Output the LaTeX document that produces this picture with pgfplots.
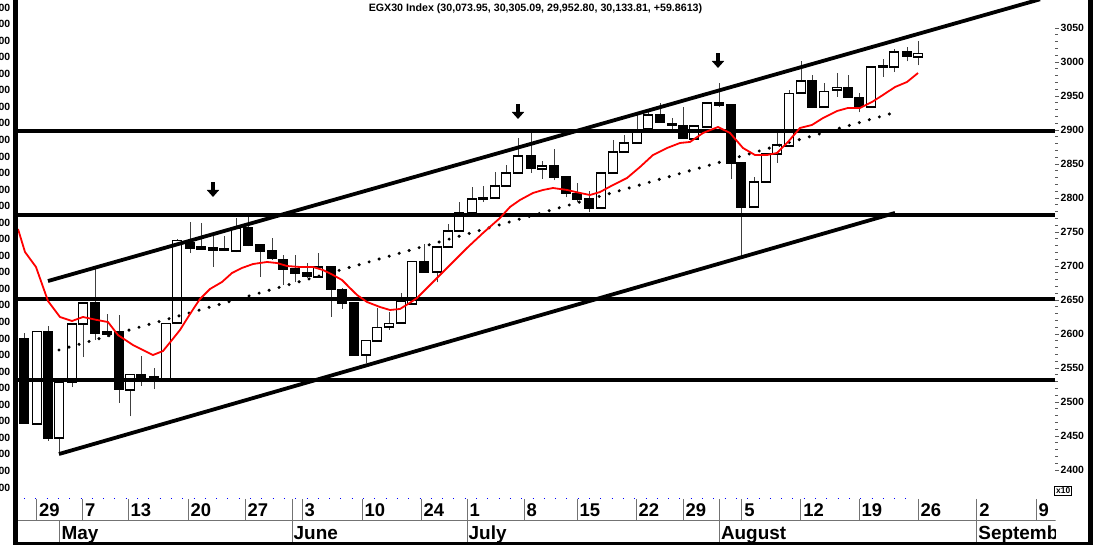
\documentclass[border=0pt]{standalone}
\usepackage{fontspec}
\setmainfont{Liberation Sans}
\usepackage{pgfplots}
\pgfplotsset{compat=1.18}
\usepackage{pgfplotstable}
\usetikzlibrary{arrows.meta}

\newcommand\fs[1]{\fontsize{#1}{#1}\selectfont\bfseries}

% white (rising) candles: x o h l c
\pgfplotstableread{
x o h l c
37 2468 2604 2468 2604
59 2447 2529 2426 2529
72 2529 2615 2522 2615
83 2615 2646 2566 2646
130 2518 2541 2479 2541
166 2534 2616 2532 2616
177 2616 2740 2616 2738
236 2722 2771 2720 2756
318 2684 2719 2684 2699
366 2569 2591 2557 2591
377 2590 2638 2589 2610
389 2610 2632 2606 2616
401 2616 2660 2615 2649
412 2644 2707 2643 2707
437 2691 2728 2676 2728
448 2728 2762 2727 2752
459 2752 2794 2751 2778
472 2778 2816 2777 2799
495 2800 2838 2799 2818
506 2818 2849 2817 2837
518 2837 2888 2836 2862
542 2843 2854 2828 2847
601 2786 2837 2785 2837
613 2837 2885 2836 2868
624 2868 2893 2867 2881
637 2881 2925 2880 2901
648 2901 2929 2900 2922
694 2887 2907 2886 2906
707 2905 2941 2904 2940
754 2787 2831 2786 2824
766 2824 2866 2823 2865
777 2865 2897 2852 2878
789 2877 2959 2876 2954
801 2954 3001 2953 2972
824 2934 2969 2933 2957
837 2959 2984 2949 2963
871 2934 2994 2933 2993
894 2993 3019 2985 3015
918 3007 3031 2995 3013
}\whitec

% black (falling) candles: x o h l c
\pgfplotstableread{
x o h l c
24 2594 2601 2469 2469
48 2604 2612 2443 2447
95 2646 2696 2591 2602
107 2603 2629 2596 2600
119 2603 2628 2499 2519
141 2541 2568 2524 2537
154 2537 2550 2519 2534
190 2734 2765 2719 2727
201 2728 2763 2724 2725
213 2727 2746 2699 2724
224 2726 2744 2722 2723
248 2756 2772 2729 2731
260 2731 2733 2684 2722
272 2722 2741 2709 2712
283 2710 2716 2672 2696
295 2696 2716 2676 2690
307 2690 2704 2683 2685
331 2699 2700 2625 2666
342 2666 2667 2637 2646
354 2646 2647 2569 2569
424 2707 2732 2690 2691
483 2801 2818 2794 2798
531 2862 2897 2837 2844
554 2847 2872 2826 2831
566 2831 2832 2801 2807
577 2807 2822 2794 2799
589 2799 2810 2779 2786
660 2922 2940 2911 2912
672 2910 2918 2900 2907
683 2906 2934 2887 2888
719 2940 2969 2934 2937
731 2937 2938 2828 2852
741 2852 2853 2713 2787
812 2972 2981 2932 2934
848 2963 2981 2962 2949
859 2947 2954 2926 2935
883 2995 3004 2978 2993
907 3016 3022 3001 3009
}\blackc

% moving average (red)
\pgfplotstableread{
x ma
18 2754.4
25 2720.6
36 2698.5
48 2648.5
60 2625.0
72 2619.1
83 2625.0
97 2620.6
108 2617.6
118 2598.5
133 2583.8
153 2569.1
163 2575.0
172 2591.2
180 2605.9
190 2629.4
200 2651.5
210 2666.2
222 2676.5
232 2689.7
242 2697.1
253 2702.9
267 2705.9
277 2704.4
287 2700.0
300 2698.5
313 2698.5
323 2694.1
333 2686.8
342 2679.4
350 2667.6
357 2657.4
367 2647.1
380 2639.7
390 2635.3
400 2636.8
408 2644.1
417 2652.9
433 2676.5
450 2701.5
467 2726.5
483 2748.5
500 2770.6
510 2786.8
520 2797.1
533 2807.4
543 2811.8
553 2814.7
567 2811.8
580 2807.4
590 2804.4
600 2808.8
613 2819.1
627 2829.4
640 2845.6
653 2863.2
667 2873.5
680 2880.9
690 2882.4
703 2895.6
718 2904.4
730 2895.6
743 2873.5
755 2863.2
767 2863.2
777 2866.2
788 2882.4
800 2903.0
812 2907.4
823 2917.6
837 2927.9
848 2932.4
860 2932.4
872 2941.2
883 2951.5
895 2963.2
907 2970.6
918 2983.8
}\matab

\begin{document}
\begin{tikzpicture}
\begin{axis}[
  at={(18bp,48bp)}, anchor=south west,
  scale only axis, width=1037bp, height=497bp,
  xmin=18, xmax=1055, ymin=2360.3, ymax=3091.18,
  axis line style={draw=none},
  xtick=\empty,
  ytick={2400,2450,...,3050},
  minor y tick num=4,
  ytick pos=right,
  tick align=outside,
  major tick length=4bp, minor tick length=2.5bp,
  tick style={black!65, line width=0.7bp},
  yticklabel style={font=\fs{10.5}, inner sep=1.5bp},
  /pgf/number format/1000 sep={},
  /pgf/number format/assume math mode=true,
  scaled y ticks=false,
]
% wicks
\addplot[draw=none, mark=none, forget plot,
  error bars/.cd, y dir=plus, y explicit, error mark=none,
  error bar style={draw=black!75, line width=1bp}]
  table[x=x, y=l, y error plus expr=\thisrow{h}-\thisrow{l}] {\whitec};
\addplot[draw=none, mark=none, forget plot,
  error bars/.cd, y dir=plus, y explicit, error mark=none,
  error bar style={draw=black!75, line width=1bp}]
  table[x=x, y=l, y error plus expr=\thisrow{h}-\thisrow{l}] {\blackc};
% white bodies: black outline then white interior
\addplot[draw=none, mark=none, forget plot,
  error bars/.cd, y dir=both, y explicit, error mark=none,
  error bar style={draw=black, line width=10.6bp}]
  table[x=x, y=o, y error plus expr=\thisrow{c}-\thisrow{o}+0.8, y error minus expr=0.8] {\whitec};
\addplot[draw=none, mark=none, forget plot,
  error bars/.cd, y dir=plus, y explicit, error mark=none,
  error bar style={draw=white, line width=8.6bp}]
  table[x=x, y expr=\thisrow{o}+1.3, y error plus expr={max(\thisrow{c}-\thisrow{o}-2.6,0)}] {\whitec};
% black bodies
\addplot[draw=none, mark=none, forget plot,
  error bars/.cd, y dir=both, y explicit, error mark=none,
  error bar style={draw=black, line width=10.6bp}]
  table[x=x, y=c, y error plus expr=\thisrow{o}-\thisrow{c}+0.8, y error minus expr=0.8] {\blackc};
% horizontal support/resistance lines
\addplot[black, line width=3.2bp] coordinates {(18,2898.5) (1055,2898.5)};
\addplot[black, line width=3.2bp] coordinates {(18,2775.0) (1055,2775.0)};
\addplot[black, line width=3.2bp] coordinates {(18,2651.5) (1055,2651.5)};
\addplot[black, line width=3.2bp] coordinates {(18,2532.4) (1055,2532.4)};
% channel lines
\addplot[black, line width=3.8bp] coordinates {(48,2677.9) (1040,3092.2)};
\addplot[black, line width=3.8bp] coordinates {(59,2423.5) (895,2778.0)};
\addplot[black, line width=3.4bp, line cap=round, dash pattern=on 0bp off 10.4bp] coordinates {(59,2576.5) (893,2925.0)};
% moving average
\addplot[red, line width=1.8bp] table[x=x, y=ma] {\matab};
% arrows
\addplot[black, line width=3.8bp, -{Triangle[width=12bp,length=7bp]}] coordinates {(213,2823.5) (213,2801.5)};
\addplot[black, line width=3.8bp, -{Triangle[width=12bp,length=7bp]}] coordinates {(518,2938.3) (518,2916.2)};
\addplot[black, line width=3.8bp, -{Triangle[width=12bp,length=7bp]}] coordinates {(718,3013.2) (718,2991.2)};
\end{axis}

\begin{scope}[x=1bp, y=-1bp, shift={(0,545bp)}]
  % title
  \node[font=\fs{10.7}, inner sep=0] at (535.5,8.5) {EGX30 Index (30,073.95, 30,305.09, 29,952.80, 30,133.81, +59.8613)};
  % cropped left scale
  \foreach \k in {0,...,29}
    \node[anchor=east, font=\fs{10.5}, inner sep=0] at (10.5,{7.5+16.55*\k}) {00};
  % date axis
  \begin{scope}
    \clip (13,490) rectangle (1055.5,545);
    \draw[blue, line width=1bp, dash pattern=on 1bp off 10.3bp] (24,498.3) -- (910,498.3);
    \draw[black!55, line width=1bp] (18,520.8) -- (1056,520.8);
    \foreach \t/\lab in {36.5/29, 82.5/7, 128/13, 188/20, 245/27, 302/3, 362/10, 421/24, 467/1, 524/8, 577/15, 636/22, 683/29, 741.7/5, 800.7/12, 859/19, 918/26, 976.7/2, 1036/9} {
      \draw[black!55, line width=1bp] (\t,499) -- (\t,520.8);
      \node[anchor=base west, font=\fs{18.5}, inner sep=0] at (\t+2.5,516.8) {\lab};
    }
    \draw[black!55, line width=1bp] (59.5,520.8) -- (59.5,545);
    \node[anchor=base west, font=\fs{19}, inner sep=0] at (61.5,540) {May};
    \foreach \t/\lab in {292/June, 467/July, 719.3/August, 976.7/September} {
      \draw[black!55, line width=1bp] (\t,499) -- (\t,545);
      \node[anchor=base west, font=\fs{19}, inner sep=0] at (\t+1.5,540) {\lab};
    }
  \end{scope}
  % x10 box
  \node[draw=black, line width=0.8bp, font=\fs{8.5}, inner xsep=1.5bp, inner ysep=1.3bp] at (1063.3,491) {x10};
  % borders
  \fill[black] (13,0) rectangle (18,545);
  \fill[black] (1088,0) rectangle (1093,545);
  \fill[black] (13,542) rectangle (1093,545);
\end{scope}
\pgfresetboundingbox
\path[use as bounding box] (0,0) rectangle (1093bp,545bp);
\end{tikzpicture}
\end{document}
